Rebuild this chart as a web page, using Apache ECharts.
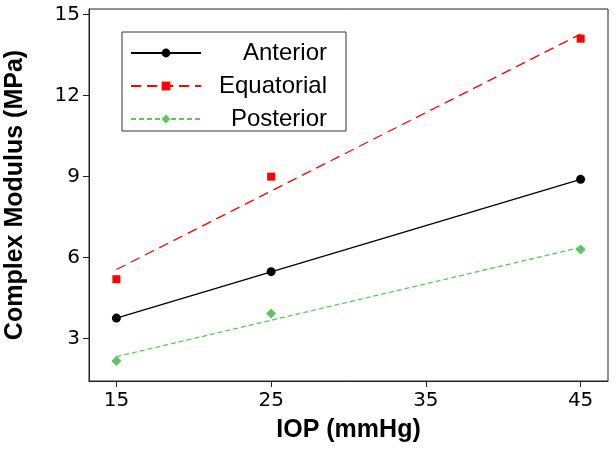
<!DOCTYPE html>
<html><head><meta charset="utf-8">
<script src="https://cdn.jsdelivr.net/npm/echarts@6/dist/echarts.min.js"></script>
<style>html,body{margin:0;padding:0;background:#fff}#c{width:615px;height:452px}</style>
</head><body><div id="c"></div>
<script>
// measured points
const iop = [15, 25, 45];
const anterior = [3.76, 5.48, 8.90];
const equatorial = [5.20, 9.00, 14.11];
const posterior = [2.17, 3.93, 6.30];
// fitted trend lines as drawn (values at x = 15 and x = 45)
const fitX = [15, 45];
const anteriorFit = [3.76, 8.90];
const equatorialFit = [5.56, 14.28];
const posteriorFit = [2.33, 6.38];
// axes
const xTicks = [15, 25, 35, 45];
const yTicks = [3, 6, 9, 12, 15];
const seriesNames = ['Anterior', 'Equatorial', 'Posterior'];

const colors = ['#000000', '#ff0000', '#5ec65e'];
const symbols = ['circle', 'rect', 'diamond'];
const symbolSizes = [9, 8, 10];
const dashes = ['solid', [10, 6], [5, 3]];
const pts = [anterior, equatorial, posterior];
const fits = [anteriorFit, equatorialFit, posteriorFit];

const pair = (xs, ys) => xs.map((x, i) => [x, ys[i]]);

const series = [];
seriesNames.forEach((name, i) => {
  series.push({
    name: name, type: 'line', data: pair(fitX, fits[i]),
    symbol: symbols[i], showSymbol: false, symbolSize: symbolSizes[i],
    lineStyle: { color: colors[i], width: 1.3, type: dashes[i] },
    itemStyle: { color: colors[i] }, silent: true, animation: false, z: 2
  });
  series.push({
    name: name + ' data', type: 'scatter', data: pair(iop, pts[i]),
    symbol: symbols[i], symbolSize: symbolSizes[i],
    itemStyle: { color: colors[i], opacity: 1 }, silent: true, animation: false, z: 3
  });
});

const chart = echarts.init(document.getElementById('c'), null, { renderer: 'canvas' });
chart.setOption({
  backgroundColor: '#fff',
  animation: false,
  grid: { left: 89, right: 7, top: 9, bottom: 71, show: true, borderColor: '#222', borderWidth: 1, containLabel: false, outerBoundsMode: 'none' },
  xAxis: {
    type: 'value', min: 13.23, max: 46.77,
    name: 'IOP (mmHg)', nameLocation: 'middle', nameGap: 37,
    nameTextStyle: { fontFamily: 'Liberation Sans', fontWeight: 'bold', fontSize: 25, color: '#000' },
    axisLine: { show: true, lineStyle: { color: '#222', width: 1 } },
    axisTick: { show: true, length: 6, customValues: xTicks, lineStyle: { color: '#222' } },
    axisLabel: { customValues: xTicks, margin: 10, fontFamily: 'DejaVu Sans', fontSize: 20, color: '#000' },
    splitLine: { show: false }
  },
  yAxis: {
    type: 'value', min: 1.43, max: 15.21,
    name: 'Complex Modulus (MPa)', nameLocation: 'middle', nameGap: 61, nameRotate: 90,
    nameTextStyle: { fontFamily: 'Liberation Sans', fontWeight: 'bold', fontSize: 25, color: '#000' },
    axisLine: { show: true, lineStyle: { color: '#222', width: 1 } },
    axisTick: { show: true, length: 6, customValues: yTicks, lineStyle: { color: '#222' } },
    axisLabel: { customValues: yTicks, margin: 9, fontFamily: 'DejaVu Sans', fontSize: 20, color: '#000' },
    splitLine: { show: false }
  },
  legend: {
    orient: 'vertical', left: 122, top: 32,
    padding: [9, 19, 0, 8], itemGap: 9,
    itemWidth: 70, itemHeight: 11,
    borderColor: '#333', borderWidth: 1, backgroundColor: '#fff',
    data: seriesNames, selectedMode: false,
    formatter: '{a|{name}}',
    textStyle: { rich: { a: { width: 121, align: 'right', fontSize: 24, lineHeight: 24, fontFamily: 'Liberation Sans', color: '#000' } } }
  },
  series: series
});
</script></body></html>
